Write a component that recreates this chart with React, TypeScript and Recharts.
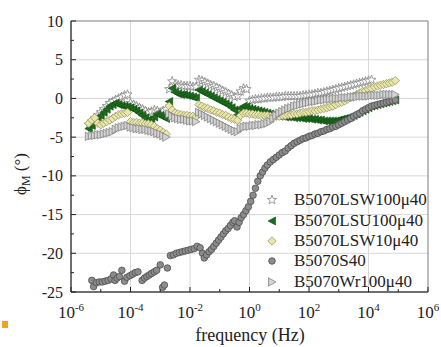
import React from "react";
import { ScatterChart, Scatter, XAxis, YAxis, CartesianGrid, Legend, ReferenceArea } from "recharts";

const FONT = "'Liberation Serif'";

// log10 of frequency (Hz) for the three sweeps: low, middle, high
const logFreq = [
  -5.4, -5.3, -5.2, -5.1, -5.0, -4.9, -4.8, -4.7, -4.6, -4.5, -4.4, -4.3, -4.2, -4.1, -4.0, -3.9, -3.8, -3.7, -3.6, -3.5, -3.4, -3.3, -3.2, -3.1, -3.0, -2.9, -2.8,
  -2.7, -2.6, -2.5, -2.4, -2.3, -2.2, -2.1, -2.0, -1.9, -1.8, -1.7, -1.6, -1.5, -1.4, -1.3, -1.2, -1.1, -1.0, -0.9, -0.8, -0.7, -0.6, -0.5,
  -0.4, -0.3, -0.2, -0.1, 0.0, 0.1, 0.2, 0.3, 0.4, 0.5, 0.6, 0.7, 0.8, 0.9, 1.0, 1.1, 1.2, 1.3, 1.4, 1.5, 1.6, 1.7, 1.8, 1.9, 2.0,
  2.1, 2.2, 2.3, 2.4, 2.5, 2.6, 2.7, 2.8, 2.9, 3.0, 3.1, 3.2, 3.3, 3.4, 3.5, 3.6, 3.7, 3.8, 3.9, 4.0, 4.1, 4.2, 4.3, 4.4, 4.5, 4.6, 4.7, 4.8, 4.9,
];

// phase angle (deg), one value per logFreq entry, null = not measured
const lsw100 = [
  -3.4, -3.0, -2.6, -2.2, -1.8, -1.4, -1.0, -0.6, -0.4, -0.2, 0.0, 0.2, 0.4, 0.5, -0.6, -0.8, -1.0, -1.2, -1.4, -1.6, -1.8, -1.7, -1.5, -1.6, -1.8, -1.6, -1.4,
  1.2, 2.2, 1.8, 1.7, 1.7, 1.6, 1.6, 1.6, 1.5, 1.5, 2.4, 2.3, 2.1, 1.9, 1.7, 1.6, 1.4, 1.2, 1.0, 0.8, 0.6, 0.4, 0.2,
  0.3, 0.9, 1.3, 1.2, -0.3, -0.2, -0.1, -0.1, 0.0, 0.0, 0.1, 0.1, 0.1, 0.2, 0.2, 0.2, 0.3, 0.3, 0.3, 0.3, 0.3, 0.3, 0.4, 0.4, 0.5,
  0.5, 0.6, 0.7, 0.7, 0.8, 0.9, 1.0, 1.1, 1.2, 1.3, 1.4, 1.5, 1.6, 1.7, 1.8, 1.9, 2.0, 2.1, 2.2, 2.3, 2.4, null, null, null, null, null, null, null, null,
];

const lsu100 = [
  -3.9, -3.5, -3.0, -2.6, -2.2, -1.8, -1.4, -1.0, -0.8, -0.6, -0.8, -0.9, -1.0, -1.1, -1.2, -1.4, -1.6, -1.9, -2.2, -2.5, -2.8, -3.0, -2.4, -2.0, -2.2, -2.4, -2.6,
  -0.4, 1.3, 0.8, 0.6, 0.5, 0.5, 0.4, 0.3, 0.2, 0.1, 1.1, 0.9, 0.7, 0.5, 0.3, 0.1, -0.1, -0.3, -0.5, -0.7, -0.9, -1.2, -1.5,
  -2.1, -1.3, -1.0, -1.1, -1.3, -1.4, -1.5, -1.6, -1.7, -1.8, -1.9, -2.0, -2.1, -2.2, -2.3, -2.3, -2.4, -2.4, -2.4, -2.5, -2.5, -2.5, -2.6, -2.6, -2.6,
  -2.7, -2.7, -2.8, -2.8, -2.9, -2.9, -2.9, -2.9, -2.9, -2.8, -2.7, -2.6, -2.5, -2.4, -2.2, -2.0, -1.8, -1.6, -1.4, -1.2, -1.0, -0.9, -0.8, -0.7, -0.6, -0.5, -0.4, -0.3, -0.2,
];

const lsw10 = [
  -3.2, -2.8, -2.5, -3.2, -3.4, -3.2, -3.0, -2.8, -2.6, -2.3, -2.1, -2.0, -1.9, -1.8, -3.0, -3.1, -3.1, -3.2, -3.2, -3.3, -3.3, -3.4, -3.6, -3.9, -4.1, -4.4, -4.6,
  -1.0, -1.5, -1.9, -2.0, -2.1, -2.2, -2.2, -2.3, -2.3, -2.4, -0.8, -1.0, -1.2, -1.3, -1.5, -1.6, -1.8, -1.9, -2.1, -2.2, -2.4, -2.6, -2.7,
  -2.8, -2.2, -1.9, -1.9, -2.0, -2.0, -2.1, -2.1, -2.2, -2.2, -2.2, -2.3, -2.3, -2.3, -2.3, -2.2, -2.2, -2.1, -2.1, -2.0, -2.0, -1.9, -1.8, -1.8, -1.7,
  -1.6, -1.6, -1.5, -1.4, -1.3, -1.2, -1.1, -1.0, -0.8, -0.6, -0.5, -0.3, -0.1, 0.1, 0.3, 0.5, 0.7, 0.9, 1.0, 1.2, 1.3, 1.5, 1.6, 1.7, 1.8, 1.9, 2.0, 2.1, 2.3,
];

const wr100 = [
  -4.9, -4.8, -4.8, -4.7, -4.7, -4.6, -4.5, -4.4, -4.3, -4.0, -3.8, -3.7, -3.6, -3.5, -3.7, -3.8, -3.9, -3.9, -4.0, -4.0, -4.1, -4.2, -4.3, -4.5, -4.6, -4.8, -5.0,
  -2.0, -2.3, -2.5, -2.6, -2.7, -2.7, -2.8, -2.9, -2.9, -3.0, -1.8, -2.0, -2.2, -2.4, -2.6, -2.8, -3.0, -3.2, -3.4, -3.6, -3.8, -4.0, -4.2,
  -4.3, -3.9, -3.7, -3.6, -3.6, -3.5, -3.5, -3.4, -3.4, -3.3, -3.2, -3.0, -2.6, -2.2, -1.9, -1.7, -1.5, -1.3, -1.2, -1.0, -0.9, -0.8, -0.7, -0.6, -0.5,
  -0.4, -0.4, -0.3, -0.2, -0.2, -0.1, -0.1, 0.0, 0.0, 0.0, 0.1, 0.1, 0.1, 0.2, 0.2, 0.2, 0.3, 0.3, 0.3, 0.3, 0.4, 0.4, 0.4, 0.4, 0.5, 0.5, 0.5, 0.5, 0.5,
];

// S40 was measured on its own frequency points: [log10 f, phase]
const s40 = [
  [-5.3, -23.5], [-5.24, -24.3], [-5.15, -23.8], [-5.05, -23.7], [-4.95, -23.7], [-4.85, -23.6], [-4.75, -23.5], [-4.65, -23.3],
  [-4.57, -22.8], [-4.52, -23.5], [-4.45, -23.2], [-4.37, -23.0], [-4.29, -22.2], [-4.2, -23.6], [-4.12, -23.1], [-4.02, -22.9],
  [-3.93, -22.7], [-3.84, -22.5], [-3.75, -22.4], [-3.61, -23.5], [-3.53, -23.2], [-3.45, -23.0], [-3.37, -22.8], [-3.29, -22.6],
  [-3.2, -22.4], [-3.12, -22.2], [-3.0, -21.5], [-2.92, -24.4], [-2.86, -24.1], [-2.76, -21.9],
  [-2.66, -20.3], [-2.56, -20.2], [-2.46, -20.0], [-2.36, -19.9], [-2.26, -19.8], [-2.16, -19.7], [-2.06, -19.6], [-1.96, -19.5],
  [-1.86, -19.4], [-1.76, -19.1], [-1.66, -19.3], [-1.58, -20.0], [-1.52, -20.6], [-1.44, -20.2], [-1.36, -19.8], [-1.28, -19.5],
  [-1.2, -19.1], [-1.12, -18.7], [-1.04, -18.3], [-0.96, -17.9], [-0.88, -17.5], [-0.8, -17.1], [-0.72, -16.8], [-0.64, -16.4],
  [-0.56, -16.0], [-0.5, -15.8], [-0.42, -16.6], [-0.35, -16.0], [-0.28, -15.4], [-0.2, -15.0], [-0.12, -14.5], [-0.04, -14.0],
  [0.04, -13.3], [0.12, -12.5], [0.2, -11.6], [0.28, -10.7], [0.36, -10.0], [0.44, -9.5], [0.52, -9.0], [0.6, -8.6],
  [0.7, -8.2], [0.8, -7.9], [0.9, -7.6], [1.0, -7.3], [1.1, -7.0], [1.2, -6.8], [1.3, -6.4], [1.4, -6.1],
  [1.5, -5.8], [1.6, -5.6], [1.7, -5.4], [1.8, -5.2], [1.9, -5.1], [2.0, -4.9], [2.1, -4.8], [2.2, -4.6],
  [2.3, -4.5], [2.4, -4.3], [2.5, -4.2], [2.6, -4.0], [2.7, -3.9], [2.8, -3.7], [2.9, -3.6], [3.0, -3.4],
  [3.1, -3.2], [3.2, -3.0], [3.3, -2.8], [3.4, -2.6], [3.5, -2.3], [3.6, -2.1], [3.7, -1.9], [3.8, -1.6],
  [3.9, -1.4], [4.0, -1.2], [4.1, -1.0], [4.2, -0.9], [4.3, -0.8], [4.4, -0.7], [4.5, -0.6], [4.6, -0.5],
  [4.7, -0.4], [4.8, -0.3], [4.9, -0.2],
];

const seriesNames = ["B5070LSW100\u03bc40", "B5070LSU100\u03bc40", "B5070LSW10\u03bc40", "B5070S40", "B5070Wr100\u03bc40"];

const xTicks = [1e-6, 1e-5, 1e-4, 1e-3, 1e-2, 1e-1, 1, 1e1, 1e2, 1e3, 1e4, 1e5, 1e6];
const xGrid = [1e-4, 1e-2, 1, 1e2, 1e4];
const yTicks = [-25, -22.5, -20, -17.5, -15, -12.5, -10, -7.5, -5, -2.5, 0, 2.5, 5, 7.5, 10];
const yGrid = [-20, -15, -10, -5, 0, 5];

const onGrid = (vals: (number | null)[]) =>
  logFreq
    .map((lf, i) => ({ f: Math.pow(10, lf), phi: vals[i] }))
    .filter((p) => p.phi !== null);

const onOwnFreq = (pairs: number[][]) => pairs.map(([lf, v]) => ({ f: Math.pow(10, lf), phi: v }));

// marker shapes
const Star = ({ cx, cy }: any) => {
  const pts: string[] = [];
  for (let i = 0; i < 10; i++) {
    const r = i % 2 === 0 ? 4.8 : 2.0;
    const a = -Math.PI / 2 + (i * Math.PI) / 5;
    pts.push(`${cx + r * Math.cos(a)},${cy + r * Math.sin(a)}`);
  }
  return <polygon points={pts.join(" ")} fill="#ffffff" stroke="#858585" strokeWidth={0.8} />;
};
const LeftTri = ({ cx, cy }: any) => (
  <polygon points={`${cx - 4},${cy} ${cx + 3.5},${cy - 4} ${cx + 3.5},${cy + 4}`} fill="#1d6b1d" stroke="#0f4a0f" strokeWidth={0.6} />
);
const Diamond = ({ cx, cy }: any) => (
  <polygon points={`${cx},${cy - 4.2} ${cx + 4.2},${cy} ${cx},${cy + 4.2} ${cx - 4.2},${cy}`} fill="#e9e7a3" stroke="#8d8c6e" strokeWidth={0.7} />
);
const Dot = ({ cx, cy }: any) => <circle cx={cx} cy={cy} r={3.3} fill="#8c8c8c" stroke="#4e4e4e" strokeWidth={0.8} />;
const RightTri = ({ cx, cy }: any) => (
  <polygon points={`${cx + 4},${cy} ${cx - 3.5},${cy - 4.2} ${cx - 3.5},${cy + 4.2}`} fill="#d3d3d3" stroke="#787878" strokeWidth={0.7} />
);

const markers = [Star, LeftTri, Diamond, Dot, RightTri];

const FreqTick = ({ x, y, payload }: any) => {
  const e = Math.round(Math.log10(payload.value));
  const major = e % 2 === 0;
  return (
    <g>
      <line x1={x} x2={x} y1={y} y2={y - (major ? 5 : 3)} stroke="#222" />
      {major && (
        <text x={x} y={y + 26} textAnchor="middle" style={{ fontFamily: FONT }} fontSize={17} fill="#222">
          10<tspan dy={-7} fontSize={11}>{e}</tspan>
        </text>
      )}
    </g>
  );
};

const PhaseTick = ({ x, y, payload }: any) => {
  const major = payload.value % 5 === 0;
  return (
    <g>
      <line x1={x} x2={x + (major ? 5 : 3)} y1={y} y2={y} stroke="#222" />
      {major && (
        <text x={x - 8} y={y + 5.5} textAnchor="end" style={{ fontFamily: FONT }} fontSize={16} fill="#222">
          {payload.value}
        </text>
      )}
    </g>
  );
};

const XTitle = () => (
  <text x={250} y={341} textAnchor="middle" style={{ fontFamily: FONT }} fontSize={18} fill="#222">
    frequency (Hz)
  </text>
);

const YTitle = () => (
  <text x={26} y={174} transform="rotate(-90 26 174)" textAnchor="middle" style={{ fontFamily: FONT }} fontSize={17} fill="#222">
    {"\u03d5"}<tspan dy={4} fontSize={12}>M</tspan><tspan dy={-4}> (°)</tspan>
  </text>
);

const renderLegend = () => (
  <div style={{ fontFamily: FONT, fontSize: 17, color: "#222" }}>
    {seriesNames.map((name, i) => {
      const Mark = markers[i];
      return (
        <div key={name} style={{ display: "flex", alignItems: "center", height: 20.4 }}>
          <svg width={22} height={20}>
            <Mark cx={11} cy={10} />
          </svg>
          <span style={{ marginLeft: 11, whiteSpace: "nowrap" }}>{name}</span>
        </div>
      );
    })}
  </div>
);

export default function App() {
  const data = [onGrid(lsw100), onGrid(lsu100), onGrid(lsw10), onOwnFreq(s40), onGrid(wr100)];

  return (
    <div style={{ position: "absolute", left: 0, top: 0, width: 441, height: 347, background: "#fff", fontFamily: FONT }}>
      <ScatterChart width={441} height={347} margin={{ top: 21, right: 13, bottom: 0, left: 0 }} style={{ fontFamily: FONT }}>
        <CartesianGrid stroke="#d8d8d8" verticalValues={xGrid} horizontalValues={yGrid} />
        <ReferenceArea x1={1e-6} x2={1e6} y1={-25} y2={10} fill="none" stroke="#7a7a7a" strokeWidth={1} />
        <XAxis
          dataKey="f"
          type="number"
          scale="log"
          domain={[1e-6, 1e6]}
          allowDataOverflow
          ticks={xTicks}
          interval={0}
          height={55}
          tickSize={0}
          tickMargin={0}
          tickLine={false}
          axisLine={{ stroke: "#222" }}
          tick={<FreqTick />}
          label={<XTitle />}
        />
        <YAxis
          dataKey="phi"
          type="number"
          domain={[-25, 10]}
          allowDataOverflow
          ticks={yTicks}
          interval={0}
          width={71}
          tickSize={0}
          tickMargin={0}
          tickLine={false}
          axisLine={{ stroke: "#222" }}
          tick={<PhaseTick />}
          label={<YTitle />}
        />
        <Legend
          layout="vertical"
          align="center"
          verticalAlign="middle"
          content={renderLegend}
          wrapperStyle={{ left: 261, top: 190, width: 178 }}
        />
        {data.map((d, i) => {
          const Mark = markers[i];
          return (
            <Scatter
              key={seriesNames[i]}
              name={seriesNames[i]}
              data={d}
              isAnimationActive={false}
              shape={(p: any) => <Mark cx={p.cx} cy={p.cy} />}
            />
          );
        })}
      </ScatterChart>
      <div style={{ position: "absolute", left: 2, top: 321, width: 6, height: 7, background: "#f5a11c" }} />
    </div>
  );
}
